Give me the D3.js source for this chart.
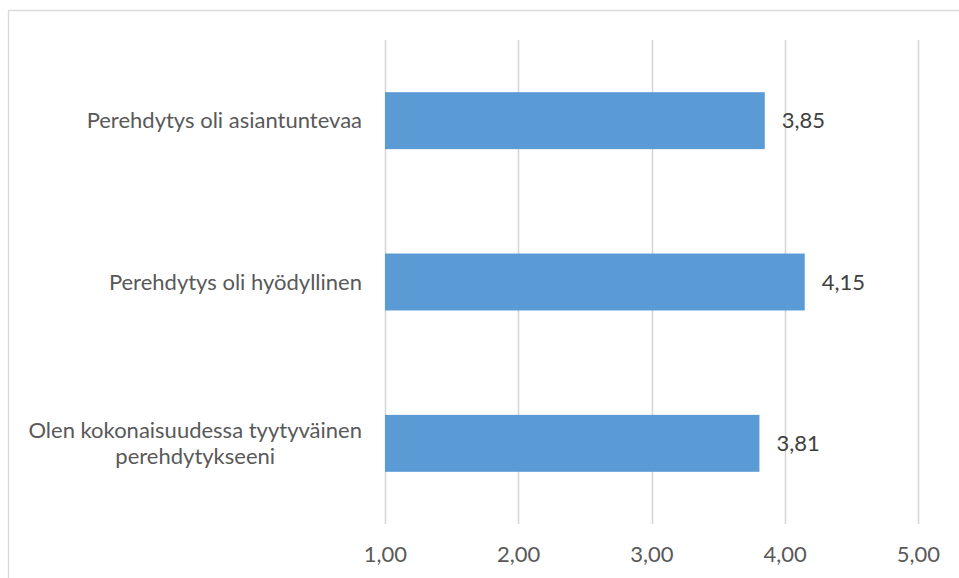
<!DOCTYPE html>
<html>
<head>
<meta charset="utf-8">
<script src="https://cdn.jsdelivr.net/npm/d3@7"></script>
<style>
  html, body { margin: 0; padding: 0; background: #fff; }
  svg { display: block; font-family: Lato, "Open Sans", sans-serif; }
</style>
</head>
<body>
<svg id="chart" width="959" height="578"></svg>
<script>
// Survey statements (top to bottom) and their mean scores
const categories = [
  "Perehdytys oli asiantuntevaa",
  "Perehdytys oli hyödyllinen",
  "Olen kokonaisuudessa tyytyväinen\nperehdytykseeni"
];
const values = [3.85, 4.15, 3.81];
const ticks = [1, 2, 3, 4, 5];

const svg = d3.select("#chart");
const W = 959, H = 578;
const plot = { left: 385, right: 918, top: 40, bottom: 524 };
const fontSize = 22;

const fmt = v => d3.format(".2f")(v).replace(".", ",");

// Outer frame
svg.append("rect")
  .attr("x", 8.5).attr("y", 10.5)
  .attr("width", W + 10).attr("height", H + 10)
  .attr("fill", "none").attr("stroke", "#d9d9d9").attr("stroke-width", 1.3);

const x = d3.scaleLinear().domain([1, 5]).range([plot.left, plot.right]);
const y = d3.scaleBand().domain(d3.range(categories.length))
  .range([plot.top, plot.bottom]).paddingInner(0.647).paddingOuter(0.3235);

// Vertical gridlines
svg.append("g").selectAll("line").data(ticks).join("line")
  .attr("x1", d => Math.round(x(d)) + 0.5).attr("x2", d => Math.round(x(d)) + 0.5)
  .attr("y1", plot.top).attr("y2", plot.bottom)
  .attr("stroke", "#d4d4d4").attr("stroke-width", 1.5);

// Bottom axis labels
const xAxis = d3.axisBottom(x).tickValues(ticks).tickFormat(fmt).tickSize(0).tickPadding(0);
const gx = svg.append("g").attr("transform", `translate(0,${plot.bottom})`).call(xAxis);
gx.select(".domain").remove();
gx.selectAll("text")
  .attr("y", 38).attr("dy", 0)
  .attr("font-size", fontSize).attr("fill", "#595959")
  .attr("font-family", "Lato, 'Open Sans', sans-serif");

// Bars
svg.append("g").selectAll("rect").data(values).join("rect")
  .attr("x", x(1))
  .attr("y", (d, i) => y(i))
  .attr("width", d => x(d) - x(1))
  .attr("height", y.bandwidth())
  .attr("fill", "#5b9bd5");

// Value labels
svg.append("g").selectAll("text").data(values).join("text")
  .attr("x", d => x(d) + 17)
  .attr("y", (d, i) => y(i) + y.bandwidth() / 2)
  .attr("dy", "0.35em")
  .attr("font-size", fontSize).attr("fill", "#404040")
  .text(d => fmt(d));

// Category labels: lines centred within a block right-aligned near the axis
const labelRight = plot.left - 23;
const lineH = 26;
categories.forEach((c, i) => {
  const lines = c.split("\n");
  const g = svg.append("text")
    .attr("font-size", fontSize).attr("fill", "#595959")
    .attr("text-anchor", "middle");
  const ts = lines.map((ln, j) => g.append("tspan").text(ln));
  const maxW = d3.max(ts, t => t.node().getComputedTextLength());
  const cx = labelRight - maxW / 2;
  const cy = y(i) + y.bandwidth() / 2;
  ts.forEach((t, j) => {
    t.attr("x", cx)
     .attr("y", cy + (j - (lines.length - 1) / 2) * lineH)
     .attr("dy", "0.35em");
  });
});
</script>
</body>
</html>
